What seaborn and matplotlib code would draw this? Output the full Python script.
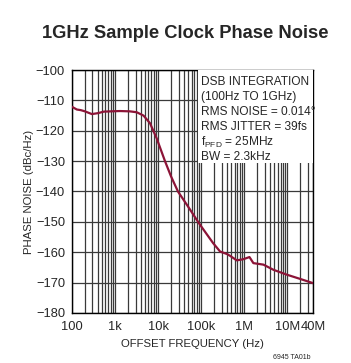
import matplotlib
matplotlib.use("Agg")
import matplotlib.pyplot as plt
import numpy as np
import pandas as pd
import seaborn as sns
from matplotlib.ticker import LogLocator, FixedLocator, NullFormatter

# data
freq_hz = [100, 130, 160, 200, 290, 400, 550, 800, 1.3e3, 2.2e3, 3.2e3, 4.6e3,
           6.5e3, 9.3e3, 14.5e3, 20e3, 29e3, 50e3, 85e3, 95e3, 190e3, 277e3,
           400e3, 472e3, 676e3, 964e3, 1.33e6, 1.64e6, 2.81e6, 4.8e6, 9.8e6,
           20e6, 40e6]
noise_dbc = [-112.1, -113.0, -113.2, -113.6, -114.5, -114.2, -113.7, -113.6,
             -113.5, -113.6, -113.9, -115.0, -117.5, -122.5, -130.0, -135.0,
             -140.0, -145.0, -150.0, -151.0, -157.0, -159.8, -160.6, -161.2,
             -162.7, -162.3, -161.6, -163.6, -164.1, -165.8, -167.4, -168.8,
             -170.2]
yticks = [-100, -110, -120, -130, -140, -150, -160, -170, -180]
xticks = [100, 1e3, 1e4, 1e5, 1e6, 1e7, 4e7]
xticklabels = ["100", "1k", "10k", "100k", "1M", "10M", "40M"]
notes = ["DSB INTEGRATION", "(100Hz TO 1GHz)", "RMS NOISE = 0.014°",
         "RMS JITTER = 39fs", "f$_{\\rm PFD}$ = 25MHz", "BW = 2.3kHz"]

sns.set_style("white")
plt.rcParams["font.family"] = ["Liberation Sans", "DejaVu Sans"]
plt.rcParams["mathtext.fontset"] = "custom"
plt.rcParams["mathtext.rm"] = "Liberation Sans"

line_color = "#8c1437"
grid_color = "#3a3a3a"

fig = plt.figure(figsize=(3.51, 3.63), dpi=100)
ax = fig.add_axes([0.205, 0.138, 0.687, 0.669])

df = pd.DataFrame({"freq": freq_hz, "noise": noise_dbc})
sns.lineplot(data=df, x="freq", y="noise", ax=ax, color=line_color, lw=1.6, zorder=4)

ax.set_xscale("log")
ax.set_xlim(100, 4e7)
ax.set_ylim(-180, -100)
ax.set_yticks(yticks)
ax.set_yticklabels([f"\u2212{abs(v)}" for v in yticks])
ax.xaxis.set_major_locator(FixedLocator(xticks))
ax.set_xticklabels(xticklabels)
ax.xaxis.set_minor_locator(LogLocator(base=10, subs=np.arange(2, 10), numticks=20))
ax.xaxis.set_minor_formatter(NullFormatter())
ax.tick_params(axis="both", which="both", length=0, labelsize=9.3)
ax.tick_params(axis="x", pad=6)
ax.tick_params(axis="y", pad=5)

ax.grid(True, which="both", axis="x", color=grid_color, lw=0.9)
ax.grid(True, which="major", axis="y", color=grid_color, lw=0.9)
for s in ax.spines.values():
    s.set_color("black")
    s.set_linewidth(1.0)

ax.set_xlabel("OFFSET FREQUENCY (Hz)", fontsize=8.2, labelpad=4)
ax.set_ylabel("PHASE NOISE (dBc/Hz)", fontsize=8.2, labelpad=1)

# white note box in upper right of the plot
ax.add_patch(plt.Rectangle((0.523, 0.617), 0.477, 0.383, transform=ax.transAxes,
                           facecolor="white", edgecolor="none", zorder=3))
for i, line in enumerate(notes):
    ax.text(0.535, 0.949 - i * 0.0617, line, transform=ax.transAxes, fontsize=8.6,
            va="center", ha="left", zorder=5)

fig.text(0.527, 0.908, "1GHz Sample Clock Phase Noise", ha="center", va="center",
         fontsize=13.2, fontweight="bold")
fig.text(0.832, 0.005, "6945 TA01b", fontsize=5, ha="center", va="bottom")

fig.savefig("out.png", dpi=100)
